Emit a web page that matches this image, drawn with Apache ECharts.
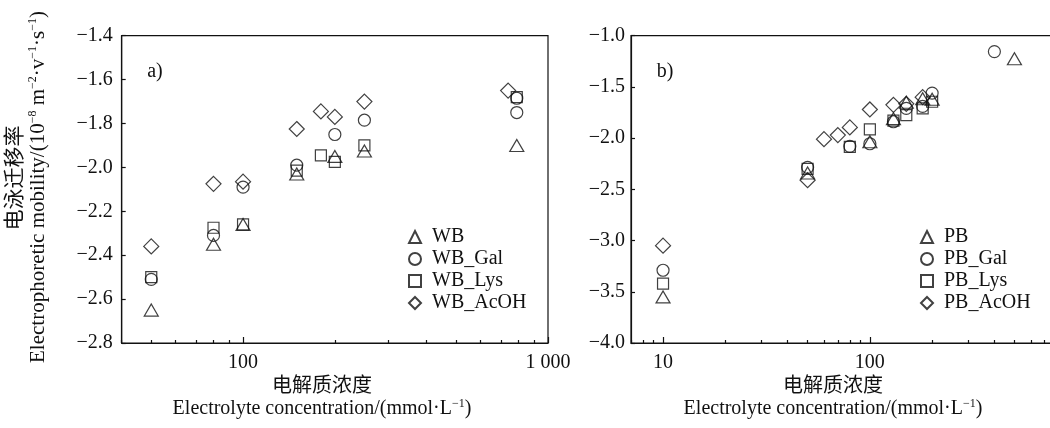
<!DOCTYPE html>
<html><head><meta charset="utf-8">
<script src="https://cdn.jsdelivr.net/npm/echarts@6/dist/echarts.min.js"></script>
<style>html,body{margin:0;padding:0;background:#fff}#c{width:1050px;height:428px}</style>
</head><body><div id="c"></div>
<script>
// ---------- data (panel a: WB) ----------
const wbConc = [50, 80, 100, 150, 200, 250, 790];
const wbVal = [-2.65, -2.35, -2.26, -2.03, -1.95, -1.925, -1.90];
const wbGalConc = [50, 80, 100, 150, 200, 250, 790, 790];
const wbGalVal = [-2.51, -2.31, -2.09, -1.99, -1.85, -1.785, -1.685, -1.75];
const wbLysConc = [50, 80, 100, 150, 180, 200, 250, 790];
const wbLysVal = [-2.50, -2.275, -2.26, -2.015, -1.945, -1.975, -1.90, -1.68];
const wbAcohConc = [50, 80, 100, 150, 180, 200, 250, 740];
const wbAcohVal = [-2.36, -2.075, -2.065, -1.825, -1.745, -1.77, -1.70, -1.65];
// ---------- data (panel b: PB) ----------
const pbConc = [10, 50, 100, 130, 150, 180, 200, 500];
const pbVal = [-3.55, -2.34, -2.035, -1.81, -1.65, -1.615, -1.62, -1.225];
const pbGalConc = [10, 50, 80, 100, 130, 150, 180, 200, 400];
const pbGalVal = [-3.29, -2.285, -2.08, -2.055, -1.84, -1.71, -1.69, -1.56, -1.155];
const pbLysConc = [10, 50, 80, 100, 130, 150, 180, 200];
const pbLysVal = [-3.42, -2.30, -2.085, -1.915, -1.83, -1.775, -1.71, -1.645];
const pbAcohConc = [10, 50, 60, 70, 80, 100, 130, 150, 180];
const pbAcohVal = [-3.05, -2.41, -2.01, -1.97, -1.895, -1.72, -1.675, -1.665, -1.60];
// ---------- ticks ----------
const leftMajor = [100, 1000];
const leftMinor = [40, 50, 60, 70, 80, 90, 200, 300, 400, 500, 600, 700, 800, 900];
const rightMajor = [10, 100, 1000];
const rightMinor = [7, 8, 9, 20, 30, 40, 50, 60, 70, 80, 90, 200, 300, 400, 500, 600, 700, 800, 900];
const leftNames = ['WB', 'WB_Gal', 'WB_Lys', 'WB_AcOH'];
const rightNames = ['PB', 'PB_Gal', 'PB_Lys', 'PB_AcOH'];

const FONT = '"Liberation Serif", "Times New Roman", "Noto Sans CJK SC", serif';
const INK = '#111';
const FS = 20;
const chart = echarts.init(document.getElementById('c'), null, {renderer: 'canvas'});

const pairs = (xs, ys) => xs.map((x, i) => [x, ys[i]]);
const symbols = [
  {symbol: 'triangle', size: [14, 12]},
  {symbol: 'circle', size: 12},
  {symbol: 'rect', size: 11},
  {symbol: 'diamond', size: [15, 15]}
];
function mk(name, xs, ys, k, xi, yi) {
  return {
    name, type: 'scatter', xAxisIndex: xi, yAxisIndex: yi,
    data: pairs(xs, ys), symbol: symbols[k].symbol, symbolSize: symbols[k].size,
    itemStyle: {color: 'rgba(0,0,0,0)', borderColor: INK, borderWidth: 1.2},
    emphasis: {disabled: true}, silent: true
  };
}
const fmtX = v => (v === 1000 ? '1 000' : String(v));
const fmtY = v => v.toFixed(1).replace('-', '\u2212');

function majorX(grid, min, max, majors) {
  return {
    type: 'log', logBase: 10, gridIndex: grid, position: 'bottom', min, max,
    axisLine: {show: true, lineStyle: {color: INK, width: 1.2}},
    axisTick: {show: true, inside: true, length: 6, customValues: majors, lineStyle: {color: INK, width: 1.2}},
    axisLabel: {show: true, customValues: majors, formatter: fmtX, margin: 10,
      fontFamily: FONT, fontSize: FS, color: INK},
    splitLine: {show: false}, minorTick: {show: false}
  };
}
function minorX(grid, min, max, minors) {
  return {
    type: 'log', logBase: 10, gridIndex: grid, position: 'bottom', min, max,
    axisLine: {show: false},
    axisTick: {show: true, inside: true, length: 3, customValues: minors, lineStyle: {color: INK, width: 1.2}},
    axisLabel: {show: false}, splitLine: {show: false}
  };
}
function yAx(grid, min, max, interval, margin) {
  return {
    type: 'value', gridIndex: grid, min, max, interval,
    axisLine: {show: true, lineStyle: {color: INK, width: 1.2}},
    axisTick: {show: true, inside: true, length: 4, lineStyle: {color: INK, width: 1.2}},
    axisLabel: {formatter: fmtY, fontFamily: FONT, fontSize: FS, color: INK, margin},
    splitLine: {show: false}
  };
}
function legend(names, left, top) {
  return {
    data: names, orient: 'vertical', left, top, itemWidth: 12, itemHeight: 12, itemGap: 2,
    selectedMode: false,
    textStyle: {fontFamily: FONT, fontSize: FS, color: INK, padding: [0, 0, 0, 6], lineHeight: 20}
  };
}
const t = (text, x, y, opts) => Object.assign({
  type: 'text', x, y, silent: true,
  style: {text, font: FS + 'px ' + FONT, fill: INK, align: 'center', verticalAlign: 'middle'}
}, opts || {});
const supRich = {s: {fontSize: 12, fontFamily: FONT, fill: INK, verticalAlign: 'top', lineHeight: 22}};

chart.setOption({
  animation: false,
  backgroundColor: '#fff',
  grid: [
    {left: 121.7, top: 35.7, width: 426.3, height: 307.3, show: true, borderColor: INK, borderWidth: 1.2,
      outerBoundsMode: 'none', containLabel: false},
    {left: 631, top: 35.7, width: 445.7, height: 307.3, show: true, borderColor: INK, borderWidth: 1.2,
      outerBoundsMode: 'none', containLabel: false}
  ],
  xAxis: [
    majorX(0, 40, 1000, leftMajor), minorX(0, 40, 1000, leftMinor),
    majorX(1, 7, 1000, rightMajor), minorX(1, 7, 1000, rightMinor)
  ],
  yAxis: [yAx(0, -2.8, -1.4, 0.2, 9), yAx(1, -4, -1, 0.5, 6)],
  legend: [legend(leftNames, 403, 222), legend(rightNames, 915, 222)],
  series: [
    mk('WB', wbConc, wbVal, 0, 0, 0),
    mk('WB_Gal', wbGalConc, wbGalVal, 1, 0, 0),
    mk('WB_Lys', wbLysConc, wbLysVal, 2, 0, 0),
    mk('WB_AcOH', wbAcohConc, wbAcohVal, 3, 0, 0),
    mk('PB', pbConc, pbVal, 0, 2, 1),
    mk('PB_Gal', pbGalConc, pbGalVal, 1, 2, 1),
    mk('PB_Lys', pbLysConc, pbLysVal, 2, 2, 1),
    mk('PB_AcOH', pbAcohConc, pbAcohVal, 3, 2, 1)
  ],
  graphic: [
    t('a)', 155, 72),
    t('b)', 665, 72),
    {type: 'text', x: 15, y: 178, rotation: Math.PI / 2, silent: true,
      style: {text: '电泳迁移率', font: '21px ' + FONT, fill: INK, align: 'center', verticalAlign: 'middle'}},
    {type: 'text', x: 38, y: 187, rotation: Math.PI / 2, silent: true,
      style: {text: 'Electrophoretic mobility/(10{s|\u22128} m{s|\u22122}\u00B7v{s|\u22121}\u00B7s{s|\u22121})',
        font: '21px ' + FONT, fill: INK, align: 'center', verticalAlign: 'middle', rich: supRich}},
    t('电解质浓度', 322, 387),
    {type: 'text', x: 322, y: 409, silent: true,
      style: {text: 'Electrolyte concentration/(mmol\u00B7L{s|\u22121})', font: FS + 'px ' + FONT, fill: INK,
        align: 'center', verticalAlign: 'middle', rich: supRich}},
    t('电解质浓度', 833, 387),
    {type: 'text', x: 833, y: 409, silent: true,
      style: {text: 'Electrolyte concentration/(mmol\u00B7L{s|\u22121})', font: FS + 'px ' + FONT, fill: INK,
        align: 'center', verticalAlign: 'middle', rich: supRich}}
  ]
});
</script></body></html>
